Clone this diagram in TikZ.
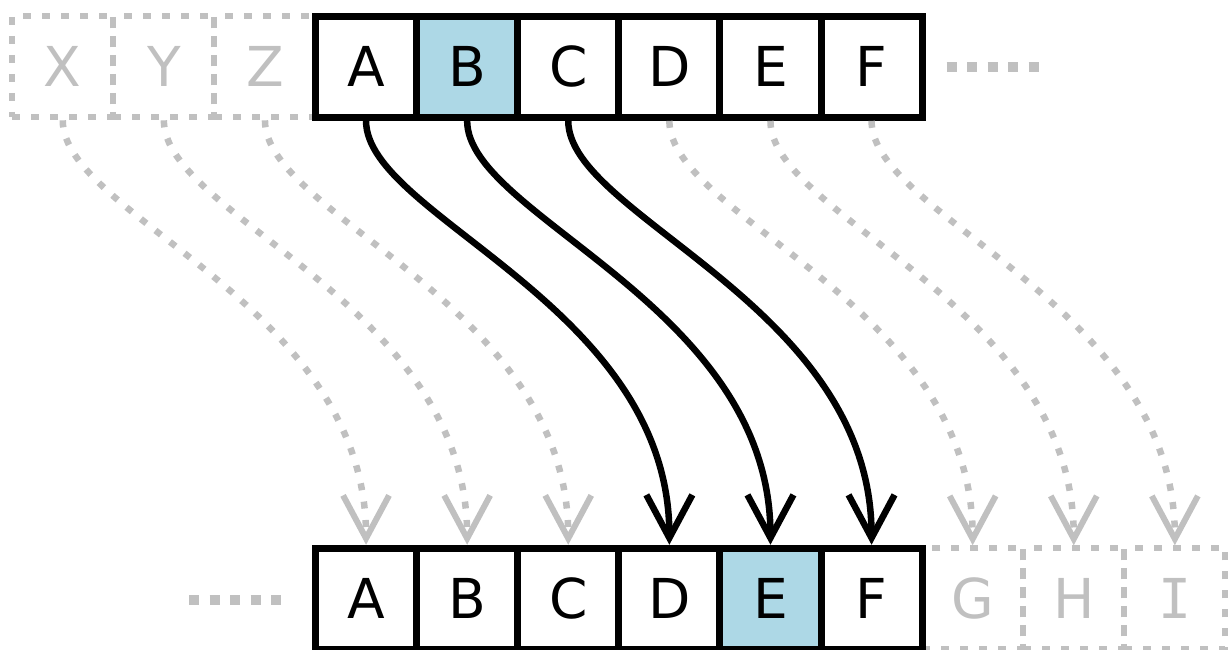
\documentclass[tikz,border=0pt]{standalone}
\usepackage{fontspec}
\setmainfont{DejaVu Sans}
\newfontfamily\monofont{DejaVu Sans Mono}
\usetikzlibrary{arrows.meta,calc}

\definecolor{ghost}{RGB}{192,192,192}
\definecolor{hilite}{RGB}{173,216,230}

\begin{document}
\begin{tikzpicture}[x=1pt,y=-1pt,
  letter/.style={font=\fontsize{55}{55}\selectfont},
  cell/.style={letter, draw=black, line width=7pt, minimum size=101.1pt, inner sep=0pt},
  ghostcell/.style={letter, draw=ghost, text=ghost, line width=6pt,
    dash pattern=on 8pt off 11pt, minimum size=101.1pt, inner sep=0pt},
  marked/.style={fill=hilite},
  shiftarrow/.style={draw=black, line width=6.5pt,
    -{Straight Barb[length=43pt,width=46pt,line width=6.5pt]}},
  ghostarrow/.style={draw=ghost, line width=6.5pt, dash pattern=on 7pt off 11.5pt,
    -{Straight Barb[length=43pt,width=46pt,line width=6pt]}},
  ellipsis/.style={draw=ghost, line width=10pt, dash pattern=on 10pt off 10.5pt}
]
\useasboundingbox (0,0) rectangle (1231,650);

% column centres: x = 12.2 + 101.1*(k+0.5)
\def\colx#1{12.2+101.1*(#1+0.5)}

% plain alphabet (top row)
\foreach \k/\l in {0/X,1/Y,2/Z}
  \node[ghostcell] (t\l) at ({\colx{\k}},66.8) {\l};
\foreach \k/\l in {3/A,4/B,5/C,6/D,7/E,8/F}
  \node[cell] (t\l) at ({\colx{\k}},66.8) {\l};
\node[cell,marked] at (tB) {B};

% shifted alphabet (bottom row)
\foreach \k/\l in {9/G,10/H}
  \node[ghostcell] (b\l) at ({\colx{\k}},598.8) {\l};
\node[ghostcell] (bI) at ({\colx{11}},598.8) {{\monofont I}};
\foreach \k/\l in {3/A,4/B,5/C,6/D,7/E,8/F}
  \node[cell] (b\l) at ({\colx{\k}},598.8) {\l};
\node[cell,marked] at (bE) {E};

% continuation dots
\coordinate (moreR1) at (946.5,67.5);
\coordinate (moreR2) at (1038.5,67.5);
\coordinate (moreL1) at (189,600);
\coordinate (moreL2) at (281,600);
\draw[ellipsis] (moreR1) -- (moreR2);
\draw[ellipsis] (moreL1) -- (moreL2);

% shift by three
\foreach \s/\d in {X/A,Y/B,Z/C,D/G,E/H,F/I}
  \draw[ghostarrow] (t\s.south) .. controls ($(t\s.south)+(0,96)$)
    and ($(b\d.north)+(0,-240)$) .. (b\d.north);
\foreach \s/\d in {A/D,B/E,C/F}
  \draw[shiftarrow] (t\s.south) .. controls ($(t\s.south)+(0,96)$)
    and ($(b\d.north)+(0,-240)$) .. (b\d.north);
\end{tikzpicture}
\end{document}
